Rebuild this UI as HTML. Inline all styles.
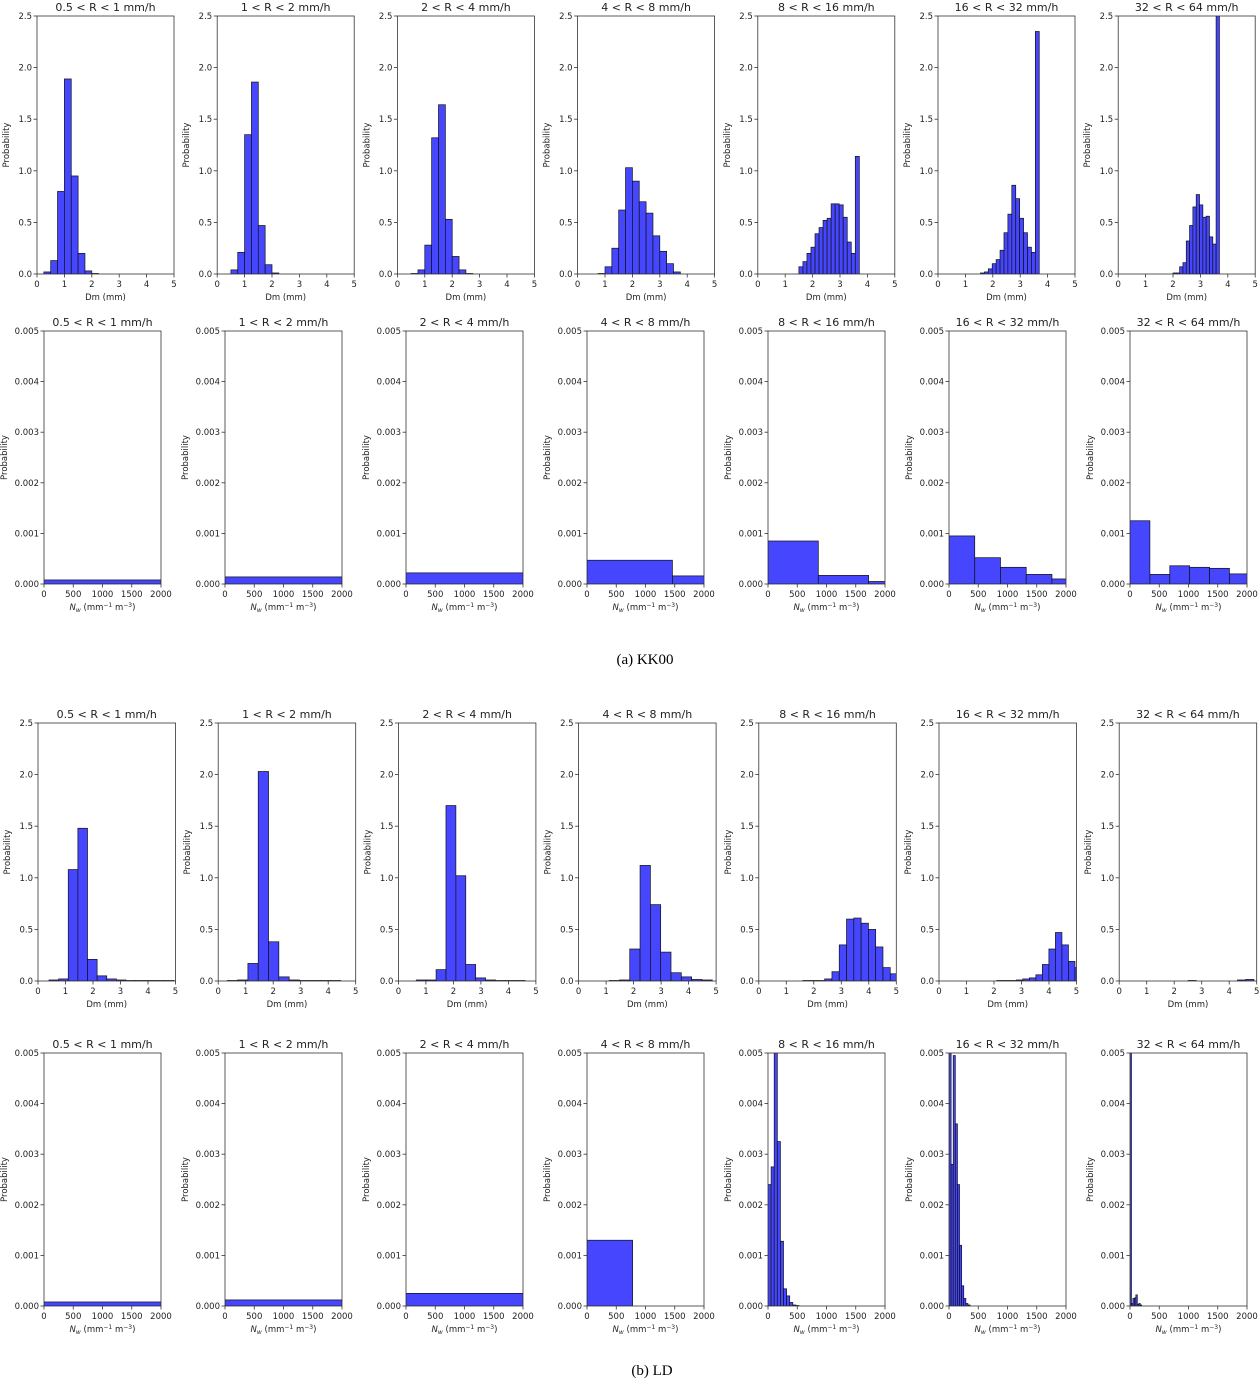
<!DOCTYPE html>
<html><head><meta charset="utf-8"><style>
body{margin:0;background:#fff;}
svg{display:block;}
text{font-family:"DejaVu Sans","Liberation Sans",sans-serif;fill:#222;}
.cap{font-family:"Liberation Serif",serif;font-size:15px;fill:#000;}
</style></head><body>
<svg id="fig" width="1260" height="1380" viewBox="0 0 1260 1380">
<text class="cap" x="645" y="664" text-anchor="middle">(a) KK00</text>
<text class="cap" x="652" y="1375" text-anchor="middle">(b) LD</text>
</svg>
<script>
const titles = ["0.5 < R < 1 mm/h","1 < R < 2 mm/h","2 < R < 4 mm/h","4 < R < 8 mm/h","8 < R < 16 mm/h","16 < R < 32 mm/h","32 < R < 64 mm/h"];
const dmTicks = [0,1,2,3,4,5];
const dmTickLabels = ["0","1","2","3","4","5"];
const dmYTicks = [0,0.5,1.0,1.5,2.0,2.5];
const dmYTickLabels = ["0.0","0.5","1.0","1.5","2.0","2.5"];
const nwTicks = [0,500,1000,1500,2000];
const nwTickLabels = ["0","500","1000","1500","2000"];
const nwYTicks = [0,0.001,0.002,0.003,0.004,0.005];
const nwYTickLabels = ["0.000","0.001","0.002","0.003","0.004","0.005"];

// KK00 Dm histograms
const kkDmStart = [0.25,0.5,0.5,0.75,1.5,1.55,2.0];
const kkDmWidth = [0.25,0.25,0.25,0.25,0.147,0.143,0.121];
const kkDmValues = [
 [0.02,0.13,0.80,1.89,0.95,0.20,0.03,0.005],
 [0.04,0.21,1.35,1.86,0.47,0.09,0.01],
 [0.005,0.04,0.28,1.32,1.64,0.53,0.17,0.04,0.005],
 [0.005,0.07,0.25,0.62,1.03,0.90,0.70,0.59,0.37,0.22,0.10,0.02],
 [0.07,0.12,0.20,0.26,0.39,0.45,0.52,0.54,0.68,0.68,0.67,0.55,0.31,0.20,1.14],
 [0.01,0.02,0.05,0.10,0.14,0.23,0.40,0.58,0.86,0.73,0.54,0.40,0.26,0.21,2.35],
 [0.01,0.01,0.07,0.11,0.32,0.47,0.65,0.77,0.67,0.55,0.56,0.36,0.29,2.6]
];
// KK00 Nw histograms
const kkNwStart = [0,0,0,0,0,0,0];
const kkNwWidth = [2000,2000,2000,1460,860,440,340];
const kkNwValues = [
 [0.00008],[0.00014],[0.00022],
 [0.00047,0.00016],
 [0.00085,0.00017,0.00005],
 [0.00095,0.00052,0.00033,0.00019,0.0001],
 [0.00125,0.00019,0.00036,0.00033,0.00031,0.0002]
];
// LD Dm histograms
const ldDmStart = [0.4,0.33,0.65,1.11,1.6,2.1,2.5];
const ldDmWidth = [0.35,0.375,0.36,0.375,0.265,0.237,0.3];
const ldDmValues = [
 [0.01,0.02,1.08,1.48,0.21,0.05,0.02,0.01,0.005,0.005,0.005,0.005,0.005],
 [0.005,0.01,0.17,2.03,0.38,0.04,0.01,0.005,0.005,0.005,0.005],
 [0.01,0.01,0.11,1.70,1.02,0.16,0.03,0.01,0.005,0.005,0.005],
 [0.005,0.01,0.31,1.12,0.74,0.28,0.08,0.04,0.015,0.01],
 [0.005,0.005,0.005,0.02,0.09,0.35,0.60,0.61,0.56,0.50,0.33,0.13,0.07],
 [0.005,0.005,0.005,0.01,0.02,0.03,0.06,0.16,0.31,0.47,0.35,0.19,0.13],
 [0.005,0,0,0,0,0,0.01,0.015]
];
// LD Nw histograms
const ldNwStart = [0,0,0,0,0,0,0];
const ldNwWidth = [2000,2000,2000,780,53,36,25];
const ldNwValues = [
 [0.00008],[0.00012],[0.00025],[0.0013],
 [0.0024,0.00275,0.0052,0.00325,0.00128,0.00034,0.0002,0.00007,0.00002,0.00001],
 [0.0052,0.0028,0.00495,0.0036,0.0024,0.0012,0.0004,0.00015,0.00005,0.00002],
 [0.0052,0.00005,0.00015,0.00016,0.00022,0.00003,0.00005,0.00002]
];

const NS = "http://www.w3.org/2000/svg";
const svg = document.getElementById("fig");
function mk(tag, attrs, parent){
  const e = document.createElementNS(NS, tag);
  for (const k in attrs) e.setAttribute(k, attrs[k]);
  (parent||svg).appendChild(e);
  return e;
}
let clipId = 0;
function panel(opts){
  const {left,top,w,h,xmax,ymax,xTicks,xLabels,yTicks,yLabels,start,width,values,title,xlabel,nw,key} = opts;
  const g = mk("g",{});
  
  
  const sx = v => left + v / xmax * w;
  const sy = v => top + h - v / ymax * h;
  const cid = "c" + (clipId++);
  const cp = mk("clipPath",{id:cid}, g);
  mk("rect",{x:left,y:top,width:w,height:h}, cp);
  const bars = mk("g",{"clip-path":"url(#"+cid+")"}, g);
  values.forEach((v,i) => {
    if (v <= 0) return;
    const x0 = sx(start + i*width), x1 = sx(start + (i+1)*width);
    const r = mk("rect",{x:x0,y:sy(v),width:Math.max(0.5,x1-x0),height:top+h-sy(v),fill:"#4646ff",stroke:"#111","stroke-width":0.7}, bars);
    
    
  });
  const fr = mk("rect",{x:left,y:top,width:w,height:h,fill:"none",stroke:"#333","stroke-width":0.8}, g);
  
  
  xTicks.forEach((t,i) => {
    const x = sx(t);
    mk("line",{x1:x,x2:x,y1:top+h,y2:top+h+3.5,stroke:"#333","stroke-width":0.8}, g);
    const tl = mk("text",{x:x,y:top+h+13,"font-size":8.5,"text-anchor":"middle"}, g);
    tl.textContent = xLabels[i];
    
    
  });
  yTicks.forEach((t,i) => {
    const y = sy(t);
    mk("line",{x1:left-3.5,x2:left,y1:y,y2:y,stroke:"#333","stroke-width":0.8}, g);
    const tl = mk("text",{x:left-5,y:y+3,"font-size":8.5,"text-anchor":"end"}, g);
    tl.textContent = yLabels[i];
    
    
  });
  const tt = mk("text",{x:left+w/2,y:top-5,"font-size":11,"text-anchor":"middle"}, g);
  tt.textContent = title;
  
  
  const xl = mk("text",{x:left+w/2,y:top+h+26,"font-size":8.5,"text-anchor":"middle"}, g);
  if (nw){
    const a = mk("tspan",{"font-style":"italic"}, xl); a.textContent = "N";
    const b = mk("tspan",{"font-style":"italic","font-size":6,dy:2}, xl); b.textContent = "w";
    const c = mk("tspan",{dy:-2}, xl); c.textContent = " (mm";
    const d = mk("tspan",{"font-size":6,dy:-3}, xl); d.textContent = "−1";
    const e = mk("tspan",{dy:3}, xl); e.textContent = " m";
    const f = mk("tspan",{"font-size":6,dy:-3}, xl); f.textContent = "−3";
    const q = mk("tspan",{dy:3}, xl); q.textContent = ")";
  } else xl.textContent = xlabel;
  
  
  const yx = nw ? left-37 : left-28;
  const yl = mk("text",{x:yx,y:top+h/2,"font-size":8.5,"text-anchor":"middle",transform:"rotate(-90 "+yx+" "+(top+h/2)+")"}, g);
  yl.textContent = "Probability";
  
  
}
for (let i=0;i<7;i++){
  panel({key:"kk00-dm-"+(i+1),left:37+i*180.2,top:16,w:137,h:258,xmax:5,ymax:2.5,xTicks:dmTicks,xLabels:dmTickLabels,yTicks:dmYTicks,yLabels:dmYTickLabels,start:kkDmStart[i],width:kkDmWidth[i],values:kkDmValues[i],title:titles[i],xlabel:"Dm (mm)",nw:false});
  panel({key:"kk00-nw-"+(i+1),left:44+i*181,top:331,w:117,h:253,xmax:2000,ymax:0.005,xTicks:nwTicks,xLabels:nwTickLabels,yTicks:nwYTicks,yLabels:nwYTickLabels,start:kkNwStart[i],width:kkNwWidth[i],values:kkNwValues[i],title:titles[i],nw:true});
  panel({key:"ld-dm-"+(i+1),left:38+i*180.2,top:723,w:137.5,h:258,xmax:5,ymax:2.5,xTicks:dmTicks,xLabels:dmTickLabels,yTicks:dmYTicks,yLabels:dmYTickLabels,start:ldDmStart[i],width:ldDmWidth[i],values:ldDmValues[i],title:titles[i],xlabel:"Dm (mm)",nw:false});
  panel({key:"ld-nw-"+(i+1),left:44+i*181,top:1053,w:117,h:253,xmax:2000,ymax:0.005,xTicks:nwTicks,xLabels:nwTickLabels,yTicks:nwYTicks,yLabels:nwYTickLabels,start:ldNwStart[i],width:ldNwWidth[i],values:ldNwValues[i],title:titles[i],nw:true});
}
</script>
</body></html>
